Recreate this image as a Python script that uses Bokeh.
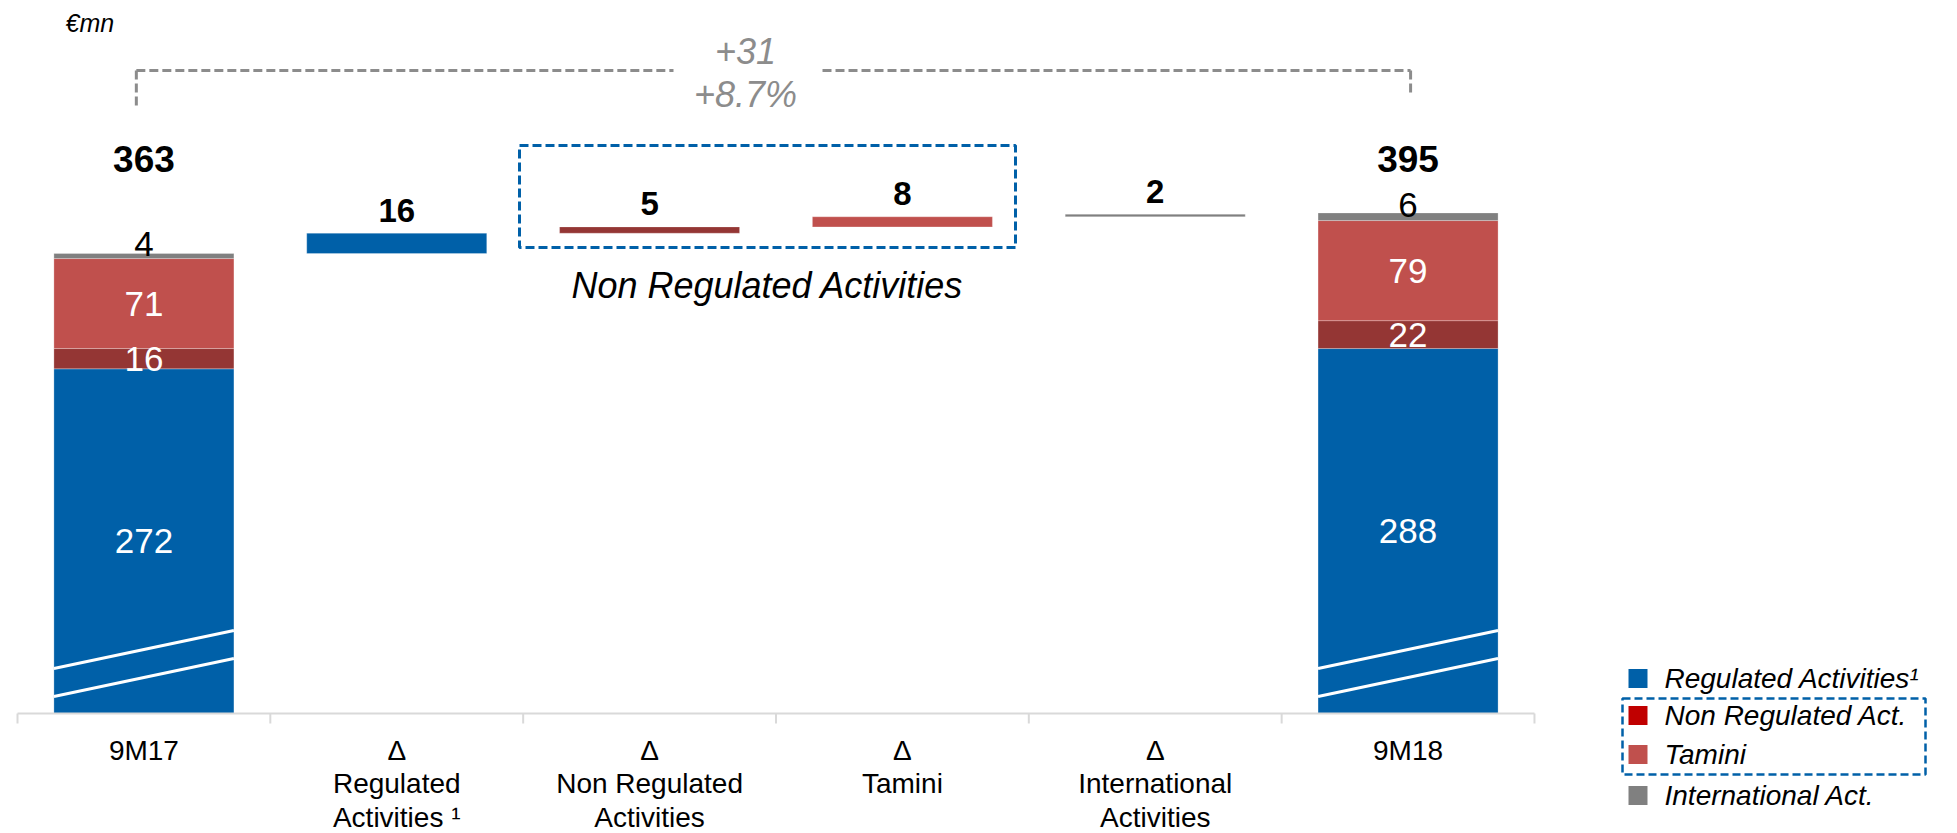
import numpy as np
from bokeh.plotting import figure
from bokeh.models import Range1d, ColumnDataSource
from bokeh.core.properties import value
from bokeh.embed import file_html
from bokeh.resources import INLINE

# ---------------- data (€mn) ----------------
categories = [
    "9M17",
    "Δ\nRegulated\nActivities ¹",
    "Δ\nNon Regulated\nActivities",
    "Δ\nTamini",
    "Δ\nInternational\nActivities",
    "9M18",
]
segments = ["Regulated Activities¹", "Non Regulated Act.", "Tamini", "International Act."]
values_9m17 = [272, 16, 71, 4]
values_9m18 = [288, 22, 79, 6]
deltas = [16, 5, 8, 2]
change_abs_label = "+31"
change_pct_label = "+8.7%"
unit_label = "€mn"
group_label = "Non Regulated Activities"

bar_colors = ["#0060A8", "#943634", "#C0504D", "#808080"]
legend_colors = ["#0060A8", "#C00000", "#C0504D", "#808080"]

# ---------------- layout ----------------
W, H = 1957, 833
LEFT_PX = 17          # left edge of first category band
BAND_PX = 252.83      # width of one category band
BASE_PX = 713         # pixel row of the zero line
PX_PER_UNIT = 1.2672  # vertical pixels per €mn
LIFT = -12            # baseline correction for alphabetic-anchored texts (px)
FONT = value("Liberation Sans")


def px_x(px):
    return (px - LEFT_PX) / BAND_PX


def px_y(py):
    return (BASE_PX - py) / PX_PER_UNIT


p = figure(
    width=W, height=H,
    x_range=Range1d(px_x(0), px_x(W)),
    y_range=Range1d(px_y(H), px_y(0)),
    output_backend="svg", toolbar_location=None,
    x_axis_location=None, y_axis_location=None,
    min_border=0, min_border_left=0, min_border_right=0,
    min_border_top=0, min_border_bottom=0,
)
p.outline_line_color = None
p.xgrid.visible = False
p.ygrid.visible = False
p.background_fill_color = "white"
p.border_fill_color = "white"

n = len(categories)
xc = np.arange(n) + 0.5
BAR_W = 0.712

# ---------------- bars ----------------
rows = dict(x=[], bottom=[], top=[], color=[])
for idx, vals in ((0, values_9m17), (n - 1, values_9m18)):
    tops = np.cumsum(vals)
    for s, v in enumerate(vals):
        rows["x"].append(xc[idx])
        rows["bottom"].append(tops[s] - v)
        rows["top"].append(tops[s])
        rows["color"].append(bar_colors[s])

running = sum(values_9m17) + np.cumsum(deltas)
for s, d in enumerate(deltas):
    rows["x"].append(xc[s + 1])
    rows["bottom"].append(running[s] - d)
    rows["top"].append(running[s])
    rows["color"].append(bar_colors[s])

p.vbar(x="x", width=BAR_W, bottom="bottom", top="top", fill_color="color",
       line_color="white", line_alpha=0.25, line_width=1,
       source=ColumnDataSource(rows))

# axis-break marks on the two total bars
brk = dict(x0=[], y0=[], x1=[], y1=[])
for idx in (0, n - 1):
    for lo, hi in ((13.4, 43.4), (35.5, 65.5)):
        brk["x0"].append(xc[idx] - BAR_W / 2)
        brk["x1"].append(xc[idx] + BAR_W / 2)
        brk["y0"].append(lo)
        brk["y1"].append(hi)
p.segment(x0="x0", y0="y0", x1="x1", y1="y1", line_color="white", line_width=3,
          source=ColumnDataSource(brk))

# ---------------- baseline & category separators ----------------
p.segment(x0=[0], y0=[0], x1=[n], y1=[0], line_color="#D9D9D9", line_width=2)
sep = np.arange(n + 1)
p.segment(x0=sep, y0=np.zeros(n + 1), x1=sep, y1=np.full(n + 1, px_y(BASE_PX + 10)),
          line_color="#D9D9D9", line_width=2)

p.text(x=xc, y=np.zeros(n), text=categories, text_font=FONT, text_font_size="28px",
       text_color="black", text_align="center", text_baseline="top",
       text_line_height=1.09, y_offset=21)

# ---------------- value labels ----------------
seg_lab = dict(x=[], y=[], text=[], color=[])
int_lab = dict(x=[], y=[], text=[])
for idx, vals in ((0, values_9m17), (n - 1, values_9m18)):
    tops = np.cumsum(vals)
    for s, v in enumerate(vals):
        mid = tops[s] - v / 2
        if s < 3:
            seg_lab["x"].append(xc[idx])
            seg_lab["y"].append(mid)
            seg_lab["text"].append(str(v))
            seg_lab["color"].append("white")
        else:
            int_lab["x"].append(xc[idx])
            int_lab["y"].append(mid)
            int_lab["text"].append(str(v))
p.text(x="x", y="y", text="text", text_color="color", text_font=FONT,
       text_font_size="35px", text_align="center", text_baseline="middle",
       source=ColumnDataSource(seg_lab))
p.text(x="x", y="y", text="text", text_color="black", text_font=FONT,
       text_font_size="35px", text_align="center", text_baseline="alphabetic",
       y_offset=LIFT, source=ColumnDataSource(int_lab))

# delta labels above the floating bars
p.text(x=xc[1:n - 1], y=running, text=[str(d) for d in deltas], text_font=FONT,
       text_font_size="33px", text_font_style="bold", text_color="black",
       text_align="center", text_baseline="alphabetic", y_offset=-11 + LIFT)

# totals on a common row
totals = [sum(values_9m17), sum(values_9m18)]
TOTAL_ROW = px_y(170)
p.text(x=[xc[0], xc[n - 1]], y=[TOTAL_ROW, TOTAL_ROW], text=[str(t) for t in totals],
       text_font=FONT, text_font_size="37px", text_font_style="bold",
       text_color="black", text_align="center", text_baseline="alphabetic",
       y_offset=LIFT)

# ---------------- change bracket ----------------
GRAY = "#8C8C8C"
br_y = px_y(70)
xl, xr = xc[0] - 0.03, xc[n - 1] + 0.01
p.segment(x0=[xl, px_x(822), xl, xr], y0=[br_y, br_y, br_y, br_y],
          x1=[px_x(673), xr, xl, xr], y1=[br_y, br_y, px_y(105), px_y(92)],
          line_color=GRAY, line_width=3, line_dash="9 4")
p.text(x=[px_x(745), px_x(745)], y=[px_y(62), px_y(106)],
       text=[change_abs_label, change_pct_label], text_font=FONT,
       text_font_size="36px", text_font_style="italic", text_color=GRAY,
       text_align="center", text_baseline="alphabetic", y_offset=LIFT)

# unit label
p.text(x=[px_x(65)], y=[px_y(31)], text=[unit_label], text_font=FONT,
       text_font_size="25px", text_font_style="italic", text_color="black",
       text_align="left", text_baseline="alphabetic", y_offset=-9)

# ---------------- non-regulated group box ----------------
BLUE = "#0060A8"
p.quad(left=[px_x(519)], right=[px_x(1015)], top=[px_y(145)], bottom=[px_y(247)],
       fill_color=None, line_color=BLUE, line_width=3, line_dash="9 4")
p.text(x=[px_x(767)], y=[px_y(297)], text=[group_label], text_font=FONT,
       text_font_size="36px", text_font_style="italic", text_color="black",
       text_align="center", text_baseline="alphabetic", y_offset=LIFT)

# ---------------- legend ----------------
leg_rows = [678, 715, 754, 795]
p.scatter(x=[px_x(1637.5)] * 4, y=[px_y(r) for r in leg_rows], marker="square",
          size=19, fill_color=legend_colors, line_color=None)
p.text(x=[px_x(1664)] * 4, y=[px_y(r) for r in leg_rows], text=segments,
       text_font=FONT, text_font_size="28px", text_font_style="italic",
       text_color="black", text_align="left", text_baseline="middle")
p.quad(left=[px_x(1622)], right=[px_x(1925)], top=[px_y(698)], bottom=[px_y(774)],
       fill_color=None, line_color=BLUE, line_width=2.5, line_dash="8 4")

open("out.html", "w").write(file_html(p, INLINE))
